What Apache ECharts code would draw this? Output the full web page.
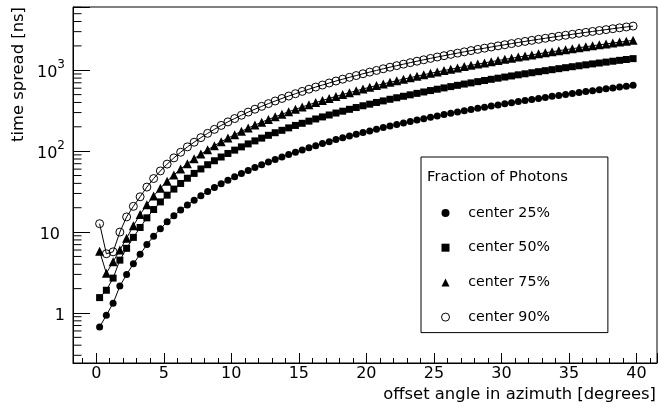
<!DOCTYPE html>
<html><head><meta charset="utf-8">
<script src="https://cdn.jsdelivr.net/npm/echarts@6/dist/echarts.min.js"></script>
<style>html,body{margin:0;padding:0;background:#fff}#c{width:661px;height:407px}</style>
</head><body><div id="c"></div>
<script>
// offset angle in azimuth [degrees]
const angles = [0.25,0.75,1.25,1.75,2.25,2.75,3.25,3.75,4.25,4.75,5.25,5.75,6.25,6.75,7.25,7.75,8.25,8.75,9.25,9.75,
  10.25,10.75,11.25,11.75,12.25,12.75,13.25,13.75,14.25,14.75,15.25,15.75,16.25,16.75,17.25,17.75,18.25,18.75,19.25,19.75,
  20.25,20.75,21.25,21.75,22.25,22.75,23.25,23.75,24.25,24.75,25.25,25.75,26.25,26.75,27.25,27.75,28.25,28.75,29.25,29.75,
  30.25,30.75,31.25,31.75,32.25,32.75,33.25,33.75,34.25,34.75,35.25,35.75,36.25,36.75,37.25,37.75,38.25,38.75,39.25,39.75];
// time spread [ns]
const center25 = [0.67,0.94,1.32,2.15,3.0,4.05,5.32,7.0,8.9,11.0,13.4,15.9,18.7,21.6,24.8,28.2,31.8,35.6,39.6,43.8,
  48.3,52.9,57.7,62.7,67.9,73.4,79.0,84.8,90.9,97.1,103.5,110,117,124,131,139,146,154,162,170,
  178,187,196,205,214,223,233,242,252,262,273,283,294,304,316,327,338,350,361,373,
  385,398,410,423,436,449,462,476,489,503,517,531,546,560,575,590,605,620,636,651];
const center50 = [1.55,1.91,2.7,4.5,6.3,8.6,11.4,15.0,19.0,23.6,28.6,34.0,39.9,46.3,53.1,60.3,68.0,76.1,84.7,93.7,
  103,113,123,134,145,157,169,181,194,208,221,235,250,265,280,296,312,329,346,364,
  381,400,418,438,457,477,497,518,539,561,583,605,628,651,675,698,723,747,773,798,
  824,850,878,904,932,960,988,1017,1046,1076,1106,1136,1167,1198,1229,1261,1293,1326,1359,1392];
const center75 = [5.8,3.1,4.3,6.0,8.4,12.0,16.5,21.8,28.0,34.9,42.6,50.9,60.1,70.0,80.6,92.0,104,117,131,145,
  160,176,193,210,228,247,266,286,307,329,352,375,399,423,449,475,502,529,557,587,
  616,647,678,710,742,776,810,845,881,917,954,992,1030,1069,1110,1150,1191,1233,1276,1320,
  1364,1409,1455,1501,1548,1596,1645,1694,1745,1796,1847,1899,1952,2006,2060,2114,2171,2227,2284,2343];
const center90 = [12.7,5.4,5.7,10.0,15.4,20.8,27.3,36.0,45.9,57.0,69.2,82.6,97.0,113,129,147,166,186,208,230,
  253,278,304,330,358,387,417,448,480,513,548,583,620,657,696,736,776,818,860,905,
  949,995,1043,1091,1140,1190,1241,1294,1347,1402,1457,1513,1571,1629,1689,1750,1811,1874,1938,2002,
  2068,2135,2204,2272,2342,2413,2485,2558,2632,2707,2783,2860,2938,3018,3097,3178,3261,3345,3428,3513];
const seriesNames = ['center 25%','center 50%','center 75%','center 90%'];
const seriesSymbols = ['circle','rect','triangle','circle'];
const xTickLabels = ['0','5','10','15','20','25','30','35','40'];
const yMinorTicks = [0.3,0.4,0.5,0.6,0.7,0.8,0.9,2,3,4,5,6,7,8,9,20,30,40,50,60,70,80,90,
  200,300,400,500,600,700,800,900,2000,3000,4000,5000,6000];
const legendTitle = 'Fraction of Photons';
const xTitle = 'offset angle in azimuth [degrees]';
const yTitle = 'time spread [ns]';

const FONT = 'DejaVu Sans';
const X_MIN = -1.72, X_MAX = 41.52, Y_MIN = 0.241, Y_MAX = 6050;

const chart = echarts.init(document.getElementById('c'), null, {renderer: 'canvas'});
const allData = [center25, center50, center75, center90];
const sizes = [7, 7, 9, 8];

const lineSeries = seriesNames.map((name, i) => ({
  name: name,
  type: 'line',
  data: angles.map((a, j) => [a, allData[i][j]]),
  symbol: seriesSymbols[i],
  symbolSize: sizes[i],
  showSymbol: true,
  lineStyle: {color: '#000', width: 1},
  itemStyle: i === 3 ? {color: 'transparent', borderColor: '#000', borderWidth: 1}
                     : {color: '#000', borderWidth: 0},
  emphasis: {disabled: true},
  silent: true,
  animation: false,
  z: 3
}));

const minorTickSeries = {
  type: 'custom',
  silent: true,
  animation: false,
  data: yMinorTicks.map(v => [X_MIN, v]),
  renderItem: (params, api) => {
    const p = api.coord([api.value(0), api.value(1)]);
    const x0 = params.coordSys.x;
    return {type: 'line', shape: {x1: x0, y1: p[1], x2: x0 + 8.5, y2: p[1]},
            style: {stroke: '#000', lineWidth: 1}};
  },
  z: 2
};

chart.setOption({
  animation: false,
  backgroundColor: '#fff',
  textStyle: {fontFamily: FONT},
  grid: {left: 73, top: 7, width: 584, height: 356, show: true, borderColor: '#000', borderWidth: 1, backgroundColor: 'transparent'},
  title: {text: legendTitle, left: 427, top: 170, padding: 0,
          textStyle: {fontFamily: FONT, fontSize: 14.7, fontWeight: 'normal', color: '#000'}},
  legend: {
    orient: 'vertical', left: 421, top: 157,
    itemWidth: 8, itemHeight: 8, itemGap: 14.7,
    padding: [46, 58, 5.5, 20],
    borderColor: '#000', borderWidth: 1,
    selectedMode: false,
    formatter: name => '{t|' + name + '}',
    textStyle: {fontFamily: FONT, fontSize: 14.2, lineHeight: 20, color: '#000',
      rich: {t: {fontFamily: FONT, fontSize: 14.2, lineHeight: 20, color: '#000', padding: [0, 0, 0, 13.7]}}},
    data: [
      {name: seriesNames[0], icon: 'circle'},
      {name: seriesNames[1], icon: 'rect'},
      {name: seriesNames[2], icon: 'triangle'},
      {name: seriesNames[3], icon: 'circle', itemStyle: {color: 'transparent', borderColor: '#000', borderWidth: 1}}
    ]
  },
  xAxis: {
    type: 'value', min: X_MIN, max: X_MAX, splitNumber: 8,
    name: xTitle, nameLocation: 'end', nameGap: -1,
    nameTextStyle: {fontFamily: FONT, fontSize: 16.4, color: '#000', align: 'right', verticalAlign: 'top', padding: [24, 0, 0, 0]},
    axisLine: {onZero: false, lineStyle: {color: '#000', width: 1}},
    axisTick: {inside: true, length: 10, lineStyle: {color: '#000'}},
    minorTick: {show: true, splitNumber: 5, length: 5, lineStyle: {color: '#000'}},
    splitLine: {show: false},
    axisLabel: {margin: 3, fontFamily: FONT, fontSize: 16, color: '#000',
      formatter: v => { const s = String(Math.round(v)); return (Math.abs(v - Math.round(v)) < 1e-6 && xTickLabels.includes(s)) ? s : ''; }}
  },
  yAxis: {
    type: 'log', logBase: 10, min: Y_MIN, max: Y_MAX,
    name: yTitle, nameLocation: 'end', nameGap: 0, nameRotate: 90,
    nameTextStyle: {fontFamily: FONT, fontSize: 16.4, color: '#000', align: 'right', verticalAlign: 'bottom', padding: [0, 0, 46, 0]},
    axisLine: {onZero: false, lineStyle: {color: '#000', width: 1}},
    axisTick: {inside: true, length: 17, lineStyle: {color: '#000'}},
    minorTick: {show: false},
    splitLine: {show: false},
    axisLabel: {
      margin: 8, color: '#000',
      formatter: v => {
        const l = Math.log10(v), k = Math.round(l);
        if (Math.abs(l - k) > 1e-6) return '';
        if (k === 0) return '{n|1}';
        if (k === 1) return '{n|10}{sp| }';
        return '{n|10}{sup|' + k + '}';
      },
      rich: {
        n: {fontFamily: FONT, fontSize: 16, color: '#000', lineHeight: 22, verticalAlign: 'bottom'},
        sup: {fontFamily: FONT, fontSize: 12, color: '#000', lineHeight: 14, verticalAlign: 'top'},
        sp: {fontFamily: FONT, fontSize: 12, width: 5}
      }
    }
  },
  series: [minorTickSeries].concat(lineSeries)
});
</script></body></html>
